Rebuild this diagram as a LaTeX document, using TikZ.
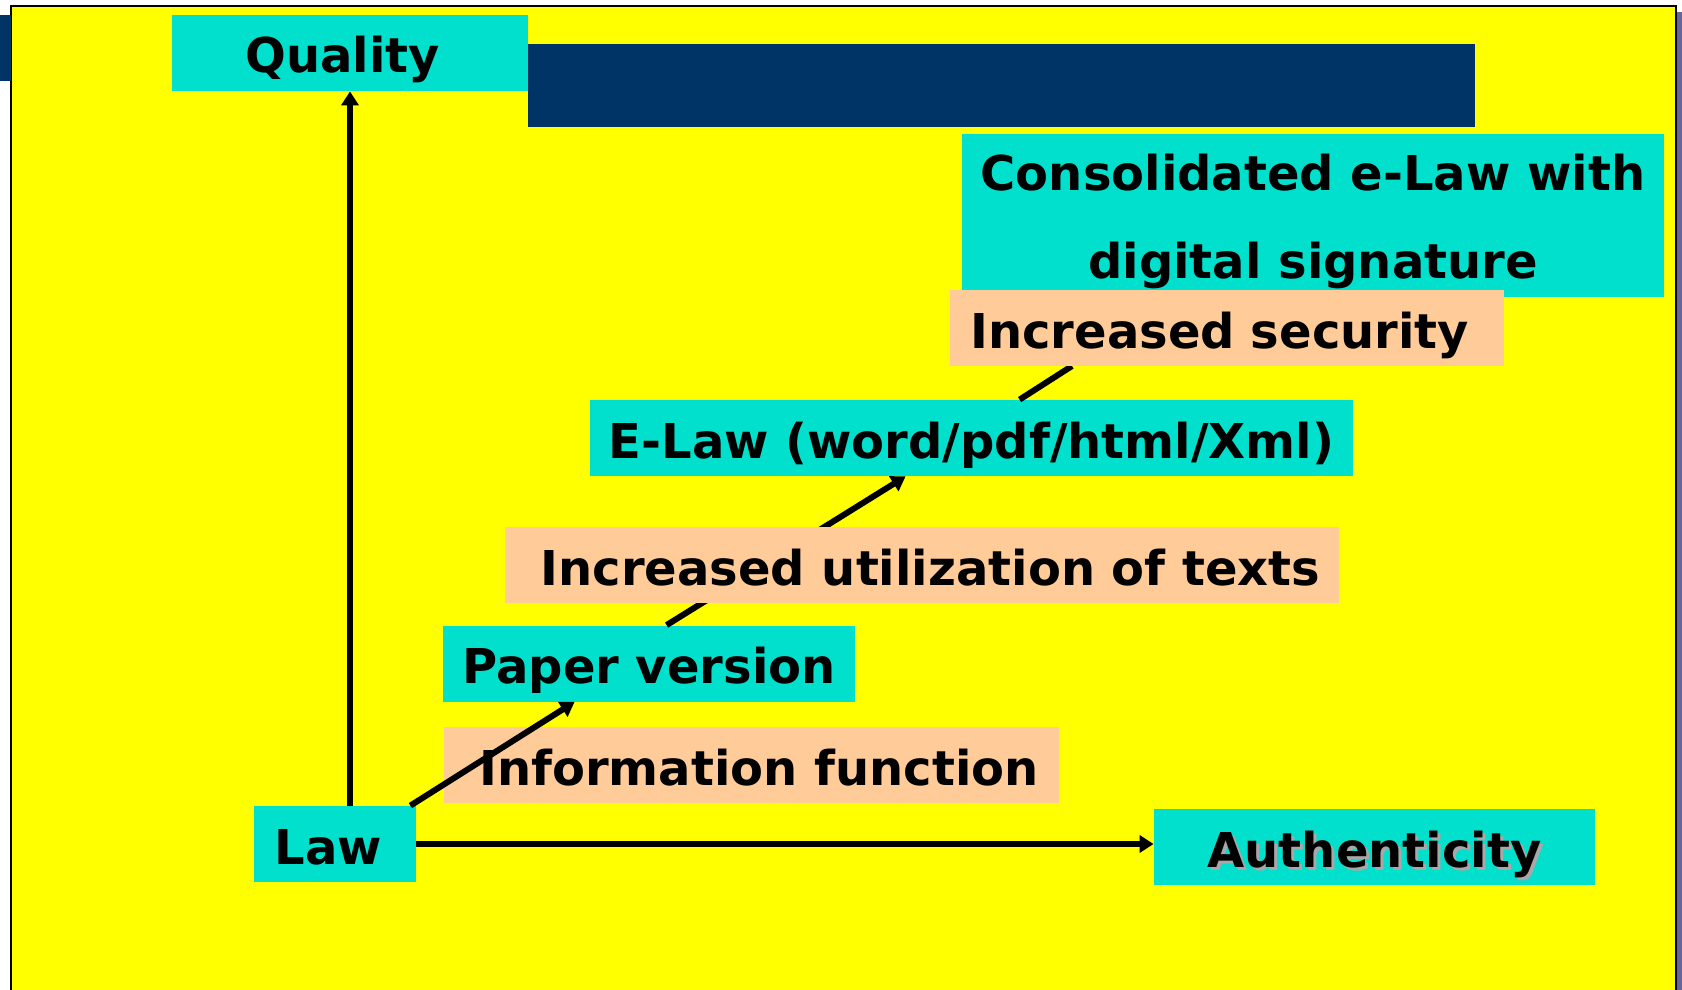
\documentclass[tikz,border=0pt]{standalone}
\usepackage{fontspec}
\setmainfont{DejaVu Sans}
\usetikzlibrary{arrows.meta}
\definecolor{slideyellow}{HTML}{FFFF00}
\definecolor{slidenavy}{HTML}{003366}
\definecolor{slideshadow}{HTML}{66669A}
\definecolor{boxcyan}{HTML}{00E0CC}
\definecolor{boxpeach}{HTML}{FFCC99}
\definecolor{textshadow}{HTML}{A8A8A8}
\newcommand{\shadowed}[1]{\makebox[0pt][l]{\hspace{1.5pt}\raisebox{-1.5pt}{\textcolor{textshadow}{#1}}}#1}
\begin{document}
\begin{tikzpicture}[x=0.5pt, y=-0.5pt,
    cyanbox/.style={fill=boxcyan, inner sep=0pt, minimum height=38pt, text height=20pt, text depth=0pt, font=\bfseries\fontsize{24}{44}\selectfont},
    peachbox/.style={cyanbox, fill=boxpeach},
    thickarrow/.style={line width=3pt, -{Triangle[length=7pt, width=8.5pt]}}]
    \useasboundingbox (0,0) rectangle (1682,990);
    % slide background
    \fill[slideshadow] (1676,12) rectangle (1682,990);
    \draw[line width=1.2pt, fill=slideyellow] (11,6) rectangle (1676,1000);
    \fill[slidenavy] (0,15) rectangle (11,81);
    \fill[slidenavy] (528,44) rectangle (1475,127);
    % stages
    \node[cyanbox, minimum width=178pt] (quality) at (350,53) {\hspace*{-7.5pt}Quality};
    \node[cyanbox, minimum width=351pt, minimum height=81.5pt, text height=63pt, align=center] (consol) at (1313,215.5) {Consolidated e-Law with\\digital signature};
    \node[cyanbox, minimum width=381.5pt] (elaw) at (971.5,438) {E-Law (word/pdf/html/Xml)};
    \node[cyanbox, minimum width=206pt] (paper) at (649,663.5) {Paper version};
    \node[cyanbox, minimum width=81pt] (law) at (335,844) {\hspace*{-6.5pt}Law};
    \node[cyanbox, minimum width=220.5pt] (auth) at (1374.5,847) {\shadowed{Authenticity}};
    \node[peachbox, minimum width=307.5pt] (info) at (751.5,765) {\hspace*{7.5pt}Information function};
    \coordinate (secfoot) at (1072,366);
    % axes and path
    \draw[thickarrow] (law.north -| quality.south) -- (quality.south);
    \draw[thickarrow] (law.east) -- (auth.west |- law.east);
    \draw[thickarrow] ([xshift=-3pt]law.north east) -- ([xshift=66pt]paper.south west);
    \draw[thickarrow] ([xshift=112pt]paper.north west) -- ([xshift=158pt]elaw.south west);
    \draw[line width=3pt] ([xshift=215pt]elaw.north west) -- (secfoot);
    \node[peachbox, minimum width=417pt] (util) at (922,565) {\hspace*{8.5pt}Increased utilization of texts};
    \node[peachbox, anchor=west, text width=257pt, inner xsep=10pt, align=left] (sec) at (950,328) {Increased security};
\end{tikzpicture}
\end{document}
